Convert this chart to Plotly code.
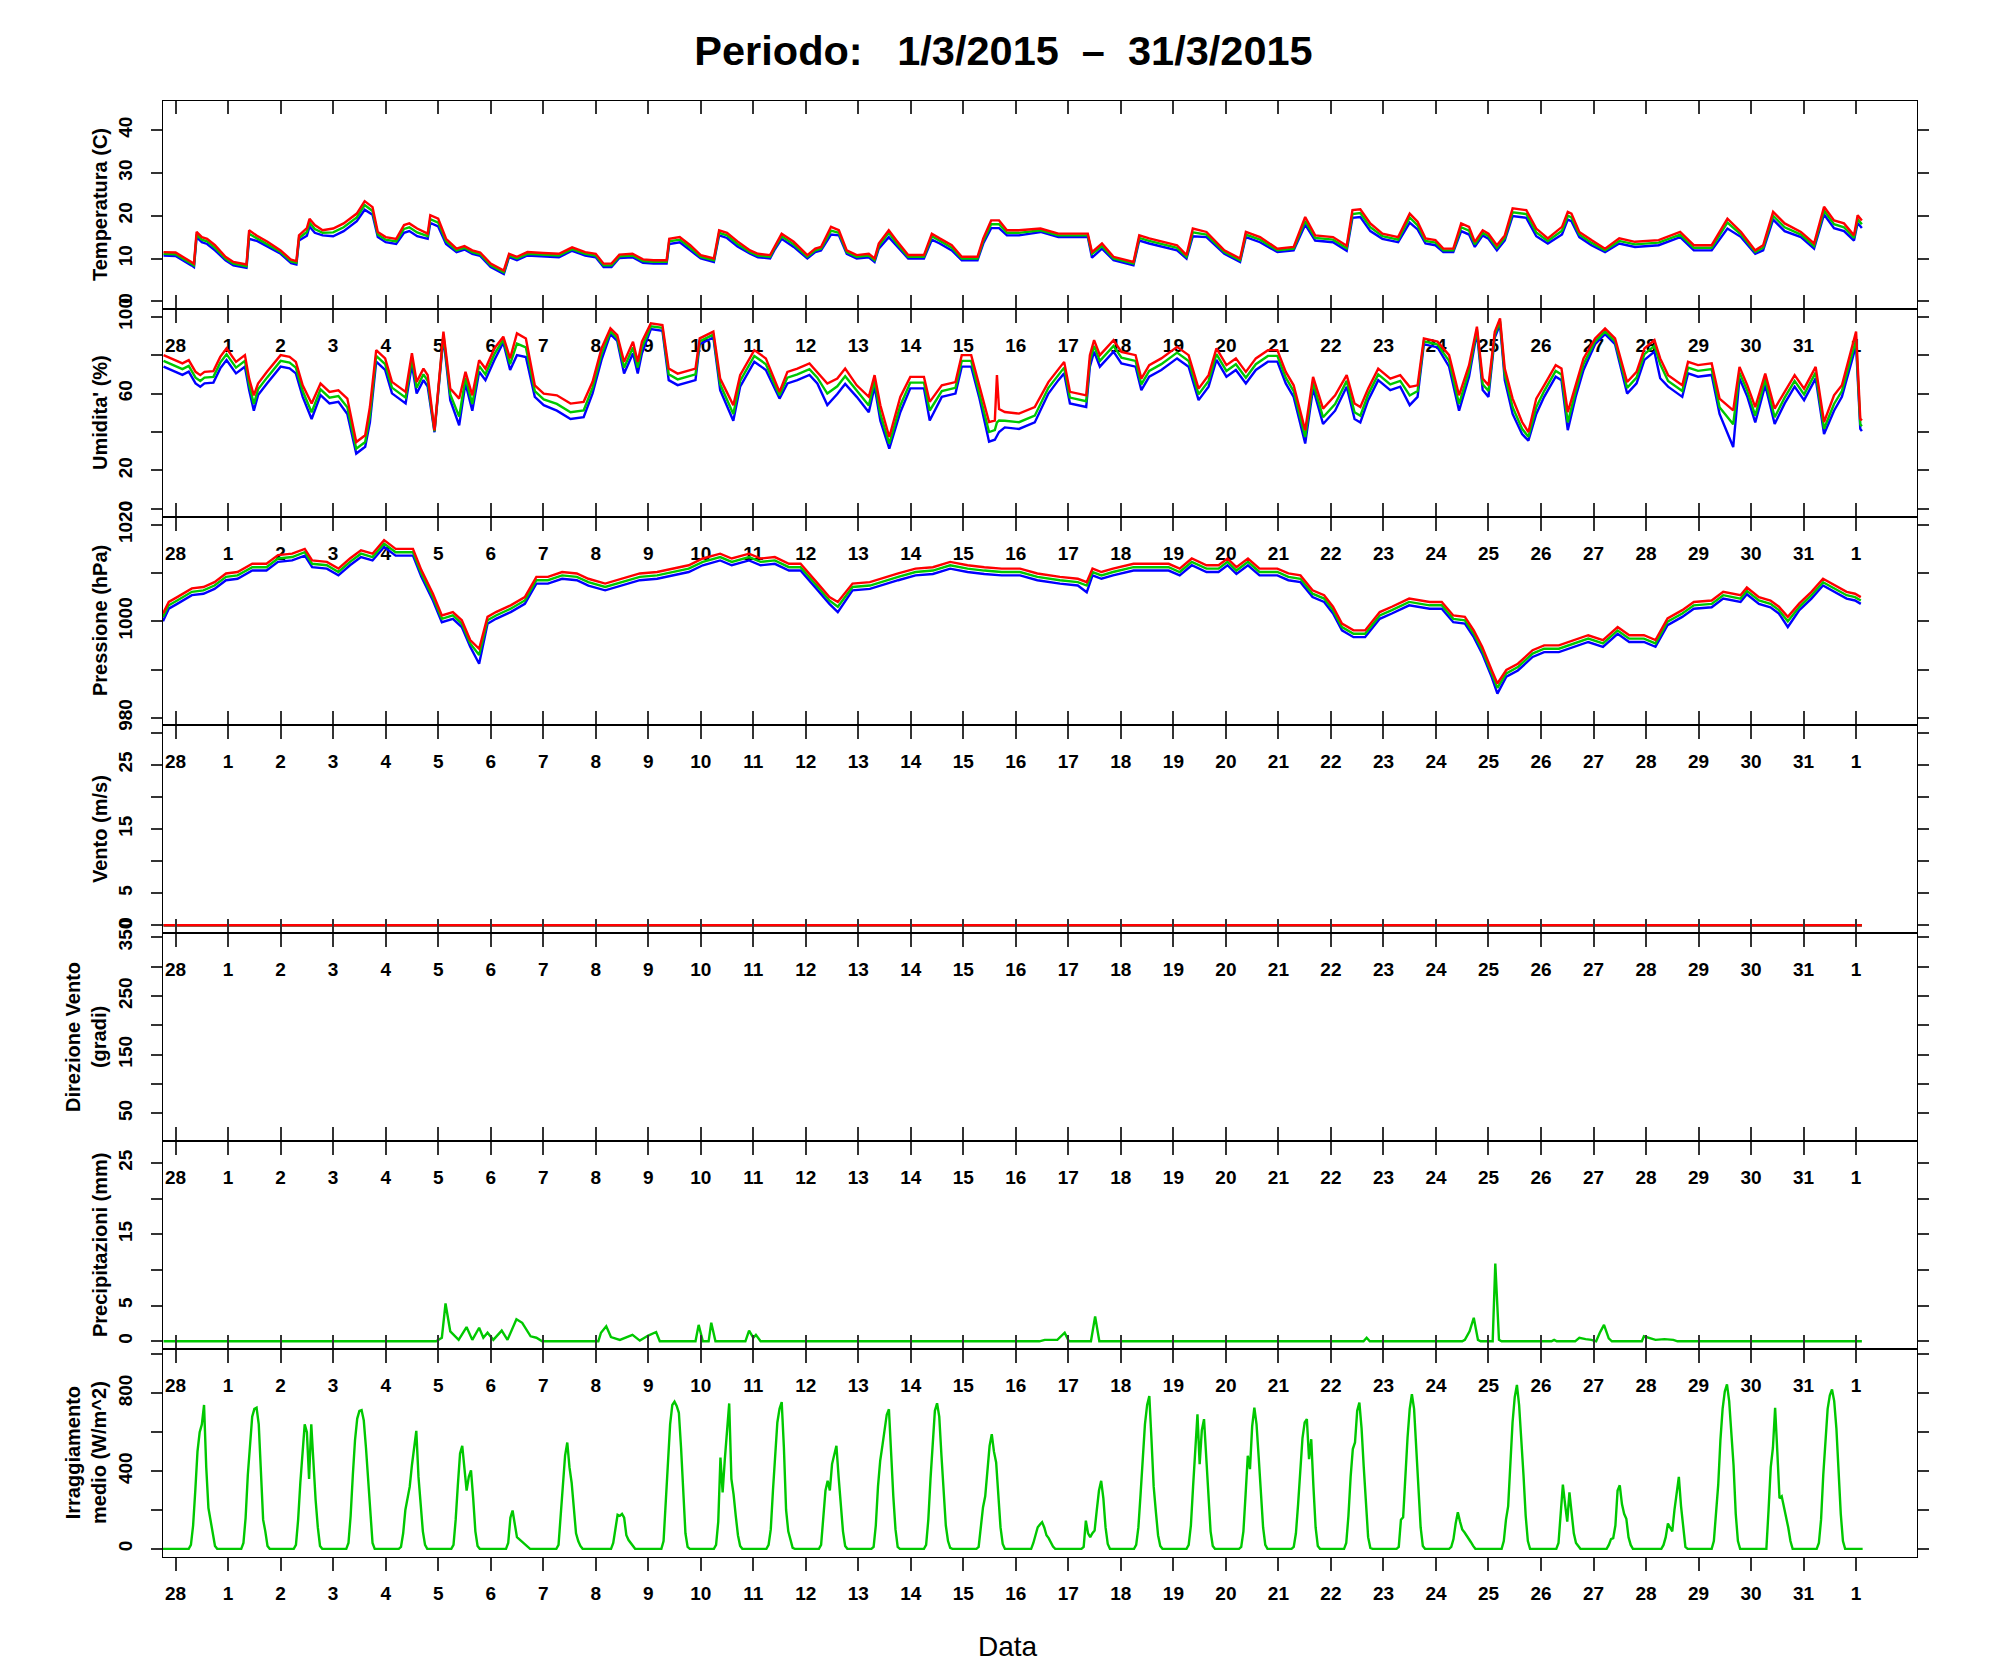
import numpy as np
import pandas as pd
import plotly.graph_objects as go
from plotly.subplots import make_subplots

# ---------- Data (times are days from 28/2/2015 00:00) ----------
BASE = pd.Timestamp("2015-02-28")
DAY_LABELS = ["28"] + [str(d) for d in range(1, 32)] + ["1"]

TEMP_T = [-0.23, 0.0, 0.3, 0.35, 0.4, 0.5, 0.6, 0.75, 0.95, 1.1, 1.35, 1.4, 1.55, 1.75, 2.0, 2.2, 2.3, 2.35,
          2.5, 2.55, 2.65, 2.8, 3.0, 3.2, 3.45, 3.6, 3.75, 3.85, 4.0, 4.2, 4.35, 4.45, 4.6, 4.8, 4.85, 5.0,
          5.15, 5.35, 5.5, 5.65, 5.8, 6.0, 6.25, 6.35, 6.5, 6.7, 7.0, 7.3, 7.55, 7.8, 8.0, 8.15, 8.3, 8.45,
          8.7, 8.9, 9.1, 9.35, 9.4, 9.6, 9.8, 10.0, 10.25, 10.35, 10.5, 10.7, 10.94, 11.09, 11.32, 11.4,
          11.54, 11.77, 12.03, 12.18, 12.29, 12.48, 12.63, 12.78, 12.97, 13.2, 13.31, 13.39, 13.58, 13.72,
          13.95, 14.25, 14.4, 14.55, 14.78, 14.97, 15.27, 15.38, 15.53, 15.68, 15.83, 16.06, 16.47, 16.81,
          17.37, 17.45, 17.64, 17.86, 18.24, 18.35, 18.54, 19.07, 19.25, 19.37, 19.63, 19.97, 20.27, 20.38,
          20.65, 20.98, 21.29, 21.51, 21.7, 22.04, 22.3, 22.41, 22.56, 22.75, 22.98, 23.28, 23.5, 23.65,
          23.8, 23.99, 24.14, 24.33, 24.48, 24.63, 24.74, 24.89, 25.0, 25.16, 25.31, 25.46, 25.72, 25.91,
          26.13, 26.4, 26.51, 26.58, 26.73, 26.96, 27.22, 27.49, 27.79, 28.24, 28.65, 28.91, 29.25, 29.55,
          29.81, 30.08, 30.23, 30.42, 30.64, 30.95, 31.2, 31.39, 31.58, 31.77, 31.96, 32.03, 32.11]
TEMP_RED = [11.5, 11.4, 9.2, 8.8, 16.2, 15.0, 14.6, 13.1, 10.4, 9.2, 8.6, 16.6, 15.3, 13.9, 11.9, 9.7, 9.4, 15.4,
            17.1, 19.3, 17.8, 16.6, 17.0, 18.2, 20.5, 23.4, 22.0, 16.2, 15.0, 14.6, 17.8, 18.2, 17.0, 15.8, 20.1, 19.3,
            14.6, 12.3, 12.9, 11.9, 11.4, 8.8, 7.2, 11.1, 10.4, 11.5, 11.3, 11.1, 12.6, 11.5, 11.1, 8.8, 8.8, 10.9,
            11.1, 9.8, 9.6, 9.6, 14.6, 15.0, 13.1, 10.8, 10.0, 16.6, 16.0, 14.0, 11.9, 11.1, 10.8, 12.7,
            15.8, 13.9, 10.8, 12.3, 12.7, 17.4, 16.6, 11.9, 10.8, 11.1, 10.0, 13.5, 16.6, 14.3,
            10.8, 10.8, 15.8, 14.7, 13.1, 10.4, 10.4, 14.7, 18.9, 18.9, 16.6, 16.6, 17.0, 15.8,
            15.8, 11.5, 13.5, 10.4, 9.2, 15.4, 14.7, 13.1, 10.8, 17.0, 16.2, 11.9, 10.0, 16.2,
            15.0, 12.3, 12.7, 19.7, 15.4, 15.0, 13.0, 21.3, 21.5, 18.2, 15.8, 15.0, 20.5, 18.6,
            14.7, 14.3, 12.3, 12.3, 18.2, 17.4, 13.9, 16.6, 15.8, 13.1, 15.4, 21.7, 21.3, 17.0,
            14.7, 17.4, 20.9, 20.5, 16.2, 14.3, 12.3, 14.7, 13.9, 14.3, 16.2, 13.1, 13.1, 19.3,
            16.2, 11.9, 13.1, 20.9, 18.2, 16.2, 13.5, 22.1, 18.9, 18.2, 15.4, 20.1, 18.9]
TEMP_GREEN = [11.1, 11.0, 8.8, 8.4, 15.6, 14.4, 14.0, 12.5, 10.0, 8.8, 8.2, 15.8, 14.7, 13.3, 11.5, 9.3, 9.0, 14.8,
              16.2, 18.4, 16.9, 16.0, 16.1, 17.3, 19.6, 22.5, 21.1, 15.6, 14.4, 14.0, 16.9, 17.3, 16.1, 15.2, 19.2, 18.4,
              14.0, 11.9, 12.5, 11.5, 11.0, 8.4, 6.8, 10.7, 10.0, 11.1, 10.9, 10.7, 12.2, 11.1, 10.7, 8.4, 8.4, 10.5,
              10.7, 9.4, 9.2, 9.2, 14.0, 14.4, 12.5, 10.4, 9.6, 16.0, 15.4, 13.4, 11.5, 10.7, 10.4, 12.3,
              15.2, 13.3, 10.4, 11.9, 12.3, 16.5, 16.0, 11.5, 10.4, 10.7, 9.6, 12.9, 16.0, 13.7,
              10.4, 10.4, 15.2, 14.1, 12.5, 10.0, 10.0, 14.1, 18.0, 18.0, 16.0, 16.0, 16.6, 15.4,
              15.4, 11.1, 12.9, 10.0, 8.8, 14.8, 14.1, 12.5, 10.4, 16.1, 15.6, 11.5, 9.6, 15.6,
              14.4, 11.9, 12.3, 18.8, 14.8, 14.4, 12.4, 20.4, 20.6, 17.3, 15.2, 14.4, 19.6, 17.7,
              14.1, 13.7, 11.9, 11.9, 17.3, 16.5, 13.3, 16.0, 15.2, 12.5, 14.8, 20.8, 20.4, 16.1,
              14.1, 16.5, 20.0, 19.6, 15.6, 13.7, 11.9, 14.1, 13.3, 13.7, 15.6, 12.5, 12.5, 18.4,
              15.6, 11.5, 12.5, 20.0, 17.3, 15.6, 12.9, 21.2, 18.0, 17.3, 14.8, 19.2, 18.0]
TEMP_BLUE = [10.7, 10.6, 8.4, 8.0, 15.0, 13.8, 13.4, 11.9, 9.6, 8.4, 7.8, 14.6, 14.1, 12.7, 11.1, 8.9, 8.6, 14.2,
             15.3, 17.5, 16.0, 15.4, 15.2, 16.4, 18.7, 21.4, 20.2, 15.0, 13.8, 13.4, 16.0, 16.4, 15.2, 14.6, 18.3, 17.5,
             13.4, 11.5, 12.1, 11.1, 10.6, 8.0, 6.4, 10.3, 9.6, 10.7, 10.5, 10.3, 11.8, 10.7, 10.3, 8.0, 8.0, 10.1,
             10.3, 9.0, 8.8, 8.8, 13.4, 13.8, 11.9, 10.0, 9.2, 15.4, 14.8, 12.8, 11.1, 10.3, 10.0, 11.9,
             14.6, 12.7, 10.0, 11.5, 11.9, 15.6, 15.4, 11.1, 10.0, 10.3, 9.2, 12.3, 15.0, 13.1,
             10.0, 10.0, 14.4, 13.5, 11.9, 9.6, 9.6, 13.5, 17.1, 17.1, 15.4, 15.4, 16.2, 15.0,
             15.0, 10.2, 12.3, 9.6, 8.4, 14.2, 13.5, 11.9, 10.0, 15.2, 15.0, 11.1, 9.2, 15.0,
             13.8, 11.5, 11.9, 17.9, 14.2, 13.8, 11.8, 19.5, 19.7, 16.4, 14.6, 13.8, 18.4, 16.8,
             13.5, 13.1, 11.5, 11.5, 16.4, 15.6, 12.7, 15.4, 14.6, 11.9, 14.2, 19.9, 19.5, 15.2,
             13.5, 15.6, 19.1, 18.7, 15.0, 13.1, 11.5, 13.5, 12.7, 13.1, 15.0, 11.9, 11.9, 17.0,
             15.0, 11.1, 11.9, 19.1, 16.4, 15.0, 12.3, 20.3, 17.1, 16.4, 14.2, 18.3, 17.1]

HUM_T = [-0.23, -0.08, 0.13, 0.25, 0.38, 0.47, 0.55, 0.72, 0.85, 0.97, 1.15, 1.32, 1.4, 1.49, 1.57, 1.74, 2.0,
         2.17, 2.29, 2.42, 2.59, 2.76, 2.93, 3.1, 3.27, 3.44, 3.61, 3.7, 3.82, 3.99, 4.12, 4.38, 4.5, 4.59,
         4.72, 4.8, 4.93, 5.1, 5.23, 5.4, 5.52, 5.65, 5.78, 5.9, 6.07, 6.24, 6.37, 6.5, 6.67, 6.84, 7.01,
         7.26, 7.52, 7.77, 7.94, 8.11, 8.28, 8.41, 8.54, 8.71, 8.8, 8.88, 9.05, 9.27, 9.39, 9.56, 9.9, 9.98,
         10.24, 10.37, 10.62, 10.75, 11.02, 11.24, 11.5, 11.65, 11.84, 12.07, 12.22, 12.41, 12.6, 12.75,
         12.97, 13.2, 13.31, 13.42, 13.59, 13.8, 13.99, 14.25, 14.36, 14.59, 14.85, 14.97, 15.15, 15.3,
         15.49, 15.6, 15.64, 15.68, 15.79, 16.06, 16.36, 16.62, 16.81, 16.92, 17.03, 17.34, 17.41, 17.49,
         17.6, 17.86, 18.01, 18.28, 18.39, 18.54, 18.77, 19.07, 19.29, 19.48, 19.67, 19.82, 20.01, 20.19,
         20.38, 20.57, 20.8, 20.98, 21.14, 21.29, 21.51, 21.66, 21.85, 22.08, 22.3, 22.45, 22.56, 22.71,
         22.9, 23.13, 23.32, 23.5, 23.65, 23.77, 24.03, 24.25, 24.44, 24.63, 24.78, 24.89, 25.0, 25.12,
         25.22, 25.31, 25.46, 25.64, 25.76, 25.91, 26.06, 26.28, 26.39, 26.51, 26.66, 26.81, 27.03, 27.22,
         27.41, 27.64, 27.82, 27.97, 28.16, 28.27, 28.42, 28.69, 28.8, 28.99, 29.25, 29.4, 29.66, 29.78,
         29.93, 30.08, 30.27, 30.45, 30.64, 30.83, 31.01, 31.23, 31.39, 31.58, 31.73, 32.0, 32.08, 32.11]
HUM_RED = [80, 78.3, 75.7, 77.4, 71.3, 69.6, 71.3, 71.7, 79.1, 83.5, 76.5, 80, 67.8, 59.1, 65.2, 71.3, 80,
           79.1, 76.5, 64.3, 54.8, 65.2, 60.9, 61.7, 57.4, 34.8, 38.3, 53, 82.6, 78.3, 66.1, 60.9, 81, 66,
           73, 69.6, 40.9, 92.2, 62.6, 57.4, 71.3, 59.1, 77.4, 73, 83.5, 89.6, 78.3, 91.3, 88.7, 64.3, 60,
           59.1, 54.8, 55.7, 66.1, 83.5, 93.9, 90.4, 76.5, 87, 76.5, 87, 96.5, 95.7, 73, 70.4, 73, 88.7,
           92.2, 67.8, 53.9, 69.6, 82.6, 78.3, 60.9, 71.3, 73, 75.7, 71.3, 65.2, 67.8, 73,
           64.3, 58.3, 69.6, 53.9, 37.4, 58.3, 68.7, 68.7, 55.7, 64.3, 66, 80, 80, 64.3,
           45.2, 46, 69.6, 52, 50.4, 49.6, 53, 66, 73, 76.5, 60.9, 59.1, 80, 87.8,
           80, 87.8, 81.7, 80, 67.8, 74.8, 78.3, 84.3, 80, 62.6, 69.6, 83.5, 74.8, 78.3,
           71.3, 78.3, 82.6, 82.6, 71.3, 64.3, 40.9, 68.7, 52.2, 59.1, 69.6, 54.8, 53, 62.6,
           73, 67.8, 69.6, 63.5, 64.3, 88.7, 87, 80, 59.1, 74.8, 94.8, 67.8, 64.3, 92.2,
           99.1, 73, 57.4, 45.2, 40, 57.4, 64.3, 74.8, 73, 50.4, 64.3, 78.3, 88.7, 93.9,
           88.7, 66, 71.3, 83.5, 87.8, 78.3, 69.6, 64.3, 76.5, 74.8, 75.7, 57.4, 51.3, 73.9,
           64.3, 53, 70.4, 52.2, 60.9, 69.6, 62.6, 73.9, 45.2, 59.1, 64.3, 92.2, 47, 46]
HUM_GREEN = [77, 75.3, 72.7, 74.4, 68.3, 66.6, 68.3, 68.7, 76.1, 80.5, 73.5, 77, 64.8, 54.6, 62.2, 68.3, 77,
             76.1, 73.5, 61.3, 50.3, 62.2, 57.9, 58.7, 52.9, 31.3, 34.8, 48.5, 79.6, 75.3, 63.1, 57.9, 78, 63,
             70, 66.6, 40.4, 90.7, 59.6, 48, 68.3, 54.6, 74.4, 70, 80.5, 88.1, 75.3, 86, 84, 61.3, 57,
             54.6, 50.3, 51.2, 63.1, 80.5, 92.4, 88.9, 73.5, 84, 73.5, 84, 95, 94.2, 70, 67.4, 70, 87.2,
             90.7, 64.8, 49.4, 66.6, 79.6, 75.3, 59.1, 68.3, 70, 72.7, 68.3, 60, 63.8, 69,
             61.3, 53.8, 66.6, 49.4, 34, 53.8, 65.7, 65.7, 51.2, 61.3, 63, 77, 77, 61.3,
             40, 41, 45, 46, 45.9, 45.1, 48.5, 63, 70, 73.5, 57.9, 56, 77, 84.8,
             77, 84.8, 78.7, 77, 64.8, 71.8, 75.3, 81.3, 77, 59.6, 66.6, 80.5, 71.8, 75.3,
             68.3, 75.3, 79.6, 79.6, 68.3, 61.3, 37.4, 65.7, 47.7, 54.6, 66.6, 50.3, 48.5, 59.6,
             70, 64.8, 66.6, 59, 61.3, 87.2, 85.5, 77, 54.6, 71.8, 93.3, 64.8, 61.3, 90.7,
             97.6, 70, 52.9, 41.7, 37.5, 52.9, 61.3, 71.8, 70, 45, 61.3, 75.3, 87.2, 92.4,
             87.2, 63, 68.3, 80.5, 84.8, 75.3, 66.6, 61.3, 73.5, 71.8, 72.7, 52.9, 44, 70.9,
             61.3, 48.5, 67.4, 47.7, 57.9, 66.6, 59.6, 70.9, 41.7, 54.6, 61.3, 88, 44, 43]
HUM_BLUE = [74, 72.3, 69.7, 71.4, 65.3, 63.6, 65.3, 65.7, 73.1, 77.5, 70.5, 74, 61.8, 51.1, 59.2, 65.3, 74,
            73.1, 70.5, 58.3, 46.8, 59.2, 54.9, 55.7, 49.4, 28.8, 32.3, 45, 76.6, 72.3, 60.1, 54.9, 75, 60,
            67, 63.6, 39.9, 89.2, 56.6, 43.5, 65.3, 51.1, 71.4, 67, 77.5, 86.6, 72.3, 80, 79, 58.3, 54,
            51.1, 46.8, 47.7, 60.1, 77.5, 90.9, 87.4, 70.5, 81, 70.5, 81, 93.5, 92.7, 67, 64.4, 67, 85.7,
            89.2, 61.8, 45.9, 63.6, 76.6, 72.3, 57.4, 65.3, 67, 69.7, 65.3, 54, 59.8, 65,
            58.3, 50.3, 63.6, 45.9, 31.3, 50.3, 62.7, 62.7, 46, 58.3, 60, 74, 74, 58.3,
            35, 36, 38, 40, 42.4, 41.6, 45, 60, 67, 70.5, 54.9, 53, 74, 81.8,
            74, 81.8, 75.7, 74, 61.8, 68.8, 72.3, 78.3, 74, 56.6, 63.6, 77.5, 68.8, 72.3,
            65.3, 72.3, 76.6, 76.6, 65.3, 58.3, 34, 62.7, 44.2, 51.1, 63.6, 46.8, 45, 56.6,
            67, 61.8, 63.6, 54, 58.3, 85.7, 84, 74, 51.1, 68.8, 91.8, 61.8, 58.3, 89.2,
            96.1, 67, 49.4, 39, 35.5, 49.4, 58.3, 68.8, 67, 41, 58.3, 72.3, 85.7, 90.9,
            85.7, 60, 65.3, 77.5, 81.8, 68, 63.6, 58.3, 70.5, 68.8, 69.7, 49.4, 32.2, 67.9,
            58.3, 45, 64.4, 44.2, 54.9, 63.6, 56.6, 67.9, 39, 51.1, 58.3, 85, 41.7, 40.5]

PRES_T = [-0.24, -0.13, 0.03, 0.31, 0.53, 0.74, 0.96, 1.18, 1.46, 1.73, 1.95, 2.22, 2.46, 2.6, 2.88, 3.1,
          3.32, 3.53, 3.75, 3.97, 4.19, 4.52, 4.68, 4.9, 5.07, 5.28, 5.45, 5.61, 5.78, 5.94, 6.1, 6.38,
          6.65, 6.87, 7.09, 7.36, 7.64, 7.86, 8.18, 8.51, 8.84, 9.17, 9.5, 9.77, 10.04, 10.37, 10.59,
          10.92, 11.14, 11.41, 11.68, 11.9, 12.23, 12.45, 12.61, 12.89, 13.22, 13.54, 13.76, 14.09,
          14.42, 14.75, 15.08, 15.4, 15.73, 16.08, 16.41, 16.84, 17.18, 17.35, 17.46, 17.63, 17.85,
          18.24, 18.63, 18.91, 19.12, 19.35, 19.63, 19.86, 20.03, 20.2, 20.42, 20.64, 20.98, 21.19,
          21.42, 21.65, 21.87, 22.04, 22.21, 22.43, 22.65, 22.93, 23.16, 23.49, 23.88, 24.11, 24.33,
          24.55, 24.72, 24.88, 25.06, 25.17, 25.34, 25.56, 25.84, 26.06, 26.34, 26.62, 26.9, 27.18,
          27.46, 27.68, 27.96, 28.18, 28.41, 28.69, 28.91, 29.25, 29.47, 29.8, 29.92, 30.15, 30.37,
          30.53, 30.7, 30.92, 31.15, 31.37, 31.59, 31.82, 31.98, 32.09]
PRES_RED = [1001.6, 1004.0, 1005.0, 1006.8, 1007.1, 1008.1, 1009.9, 1010.2, 1011.9, 1011.9, 1013.7, 1014.0,
            1015.0, 1012.6, 1012.3, 1010.9, 1013.0, 1014.7, 1014.0, 1016.8, 1015.0, 1015.0, 1010.6, 1005.7,
            1001.2, 1001.9, 1000.2, 996.1, 994.3, 1000.9, 1001.9, 1003.3, 1005.0, 1009.2, 1009.2, 1010.2,
            1009.9, 1008.8, 1007.8, 1008.8, 1009.9, 1010.2, 1010.9, 1011.6, 1013.0, 1014.0, 1013.0, 1014.0,
            1013.0, 1013.3, 1011.9, 1011.9, 1007.8, 1005.0, 1004.0, 1007.8, 1008.1, 1009.2, 1009.9, 1010.9,
            1011.2, 1012.3, 1011.6, 1011.2, 1010.9, 1010.9, 1009.9, 1009.2, 1008.8, 1008.1, 1010.9, 1010.2,
            1010.9, 1011.9, 1011.9, 1011.9, 1010.9, 1013.0, 1011.6, 1011.6, 1013.0, 1011.2, 1013.0, 1010.9,
            1010.9, 1009.9, 1009.5, 1006.4, 1005.4, 1003.0, 999.5, 998.1, 998.1, 1001.9, 1003.0, 1004.7,
            1004.0, 1004.0, 1001.2, 1000.9, 998.1, 994.7, 989.9, 987.1, 989.9, 991.2, 994.0, 995.0, 995.0,
            996.1, 997.1, 996.1, 998.8, 997.1, 997.1, 996.1, 1000.6, 1002.3, 1004.0, 1004.3, 1006.1,
            1005.4, 1007.0, 1005.0, 1004.3, 1003.0, 1000.9, 1003.7, 1006.1, 1008.8, 1007.4, 1006.1,
            1005.7, 1005.0]
PRES_GREEN = [1000.9, 1003.3, 1004.3, 1006.1, 1006.4, 1007.4, 1009.2, 1009.5, 1011.2, 1011.2, 1013.0, 1013.3,
              1014.3, 1011.9, 1011.6, 1010.2, 1012.3, 1014.0, 1013.3, 1016.1, 1014.3, 1014.3, 1009.9, 1005.0,
              1000.5, 1001.2, 999.5, 995.4, 993.0, 1000.2, 1001.2, 1002.6, 1004.3, 1008.5, 1008.5, 1009.5,
              1009.2, 1008.1, 1007.1, 1008.1, 1009.2, 1009.5, 1010.2, 1010.9, 1012.3, 1013.3, 1012.3, 1013.3,
              1012.3, 1012.6, 1011.2, 1011.2, 1007.1, 1004.3, 1003.0, 1007.1, 1007.4, 1008.5, 1009.2, 1010.2,
              1010.5, 1011.6, 1010.9, 1010.5, 1010.2, 1010.2, 1009.2, 1008.5, 1008.1, 1007.4, 1010.2, 1009.5,
              1010.2, 1011.2, 1011.2, 1011.2, 1010.2, 1012.3, 1010.9, 1010.9, 1012.3, 1010.5, 1012.3, 1010.2,
              1010.2, 1009.2, 1008.8, 1005.7, 1004.7, 1002.3, 998.8, 997.4, 997.4, 1001.2, 1002.3, 1004.0,
              1003.3, 1003.3, 1000.5, 1000.2, 997.4, 994.0, 989.2, 986.2, 989.2, 990.5, 993.3, 994.3, 994.3,
              995.4, 996.4, 995.4, 998.1, 996.4, 996.4, 995.4, 999.9, 1001.6, 1003.3, 1003.6, 1005.4,
              1004.7, 1006.3, 1004.3, 1003.6, 1002.3, 1000.0, 1003.0, 1005.4, 1008.1, 1006.7, 1005.4,
              1005.0, 1004.3]
PRES_BLUE = [1000.0, 1002.6, 1003.6, 1005.4, 1005.7, 1006.7, 1008.5, 1008.8, 1010.5, 1010.5, 1012.3, 1012.6,
             1013.6, 1011.2, 1010.9, 1009.5, 1011.6, 1013.3, 1012.6, 1015.4, 1013.6, 1013.6, 1009.2, 1004.3,
             999.8, 1000.5, 998.8, 994.7, 991.2, 999.5, 1000.5, 1001.9, 1003.6, 1007.8, 1007.8, 1008.8,
             1008.5, 1007.4, 1006.4, 1007.4, 1008.5, 1008.8, 1009.5, 1010.2, 1011.6, 1012.6, 1011.6, 1012.6,
             1011.6, 1011.9, 1010.5, 1010.5, 1006.4, 1003.6, 1001.9, 1006.4, 1006.7, 1007.8, 1008.5, 1009.5,
             1009.8, 1010.9, 1010.2, 1009.8, 1009.5, 1009.5, 1008.5, 1007.8, 1007.4, 1006.0, 1009.5, 1008.8,
             1009.5, 1010.5, 1010.5, 1010.5, 1009.5, 1011.6, 1010.2, 1010.2, 1011.6, 1009.8, 1011.6, 1009.5,
             1009.5, 1008.5, 1008.1, 1005.0, 1004.0, 1001.6, 998.1, 996.7, 996.7, 1000.5, 1001.6, 1003.3,
             1002.6, 1002.6, 999.8, 999.5, 996.7, 993.3, 988.5, 985.0, 988.5, 989.8, 992.6, 993.6, 993.6,
             994.7, 995.7, 994.7, 997.4, 995.7, 995.7, 994.7, 999.2, 1000.9, 1002.6, 1002.9, 1004.7,
             1004.0, 1005.6, 1003.6, 1002.9, 1001.6, 998.8, 1002.3, 1004.7, 1007.4, 1006.0, 1004.7,
             1004.3, 1003.6]

WIND_T = [-0.23, 32.11]
WIND_RED = [0.0, 0.0]
WIND_GREEN = [0.0, 0.0]
WIND_BLUE = [0.0, 0.0]
WDIR = [None, None]  # no wind direction recorded

RAIN_T = [-0.23, 4.96, 5.07, 5.14, 5.23, 5.39, 5.54, 5.65, 5.78, 5.86, 5.94, 6.05, 6.21, 6.32, 6.49, 6.6,
          6.76, 6.87, 6.98, 8.05, 8.1, 8.2, 8.29, 8.46, 8.7, 8.84, 9.0, 9.15, 9.22, 9.9, 9.96, 10.04, 10.15,
          10.2, 10.28, 10.85, 10.92, 11.0, 11.05, 11.14, 16.45, 16.55, 16.79, 16.93, 17.01, 17.43, 17.51,
          17.59, 22.62, 22.68, 22.74, 24.5, 24.55, 24.64, 24.72, 24.8, 24.85, 25.08, 25.13, 25.2, 25.25,
          26.2, 26.25, 26.3, 26.65, 26.73, 26.85, 26.96, 27.05, 27.12, 27.2, 27.29, 27.35, 27.92, 27.96,
          28.07, 28.18, 28.35, 28.52, 28.6, 32.11]
RAIN_MM = [0, 0, 0.5, 5.3, 1.4, 0.2, 2.0, 0.2, 1.9, 0.5, 1.2, 0.2, 1.5, 0.2, 3.1, 2.6,
           0.7, 0.5, 0, 0, 1.2, 2.1, 0.6, 0.2, 0.9, 0.1, 0.8, 1.3, 0, 0, 2.3, 0, 0,
           2.6, 0, 0, 1.5, 0.5, 0.9, 0, 0, 0.2, 0.2, 1.2, 0, 0, 3.5,
           0, 0, 0.5, 0, 0, 0.2, 1.4, 3.3, 0.2, 0, 0, 10.9, 0.2, 0,
           0, 0.2, 0, 0, 0.5, 0.3, 0.2, 0, 1.2, 2.3, 0.4, 0, 0, 0.7,
           0.4, 0.2, 0.3, 0.2, 0, 0]

# hourly irradiance, hours 6..19 of each day from 28/2 to 31/3 (night = 0)
IRR_HOURS = list(range(6, 20))
IRR_DAY = [
    [0, 20, 120, 300, 500, 600, 640, 740, 420, 210, 150, 70, 15, 0],
    [0, 30, 160, 380, 560, 680, 720, 726, 640, 420, 150, 90, 15, 0],
    [0, 20, 150, 340, 520, 640, 600, 360, 640, 430, 250, 110, 15, 0],
    [0, 30, 170, 380, 560, 670, 710, 714, 660, 520, 350, 160, 30, 0],
    [0, 10, 80, 200, 260, 320, 430, 520, 607, 370, 220, 90, 20, 0],
    [0, 20, 150, 330, 490, 530, 420, 300, 370, 404, 260, 90, 15, 0],
    [0, 0, 30, 160, 197, 120, 60, 50, 40, 30, 20, 8, 0, 0],
    [0, 20, 160, 340, 480, 547, 420, 340, 200, 80, 40, 15, 0, 0],
    [0, 0, 30, 110, 175, 170, 180, 160, 70, 45, 30, 12, 0, 0],
    [0, 40, 220, 450, 640, 740, 757, 735, 700, 520, 280, 80, 10, 0],
    [0, 20, 140, 470, 290, 460, 630, 748, 360, 280, 170, 70, 15, 0],
    [0, 20, 100, 300, 500, 650, 720, 755, 520, 200, 90, 40, 5, 0],
    [0, 20, 140, 300, 350, 300, 436, 480, 530, 370, 220, 90, 15, 0],
    [0, 10, 120, 320, 453, 530, 615, 690, 718, 480, 270, 100, 10, 0],
    [0, 20, 150, 360, 560, 710, 749, 680, 480, 280, 120, 40, 5, 0],
    [0, 10, 100, 214, 270, 410, 530, 590, 500, 444, 270, 110, 25, 0],
    [0, 0, 30, 70, 111, 125, 137, 110, 70, 55, 35, 12, 0, 0],
    [0, 10, 145, 80, 60, 80, 94, 200, 300, 350, 260, 110, 25, 0],
    [0, 20, 110, 280, 480, 640, 740, 786, 560, 320, 190, 70, 15, 0],
    [0, 20, 120, 320, 520, 692, 436, 610, 667, 470, 270, 90, 15, 0],
    [0, 10, 90, 280, 479, 410, 630, 726, 640, 470, 300, 110, 20, 0],
    [0, 10, 80, 230, 420, 570, 650, 667, 461, 564, 320, 110, 15, 0],
    [0, 30, 170, 370, 513, 547, 710, 752, 620, 420, 220, 60, 5, 0],
    [0, 10, 150, 162, 380, 570, 720, 795, 720, 520, 320, 110, 15, 0],
    [0, 10, 50, 130, 188, 140, 100, 85, 70, 55, 34, 15, 0, 0],
    [0, 40, 150, 220, 440, 650, 780, 843, 740, 580, 380, 170, 40, 0],
    [0, 0, 30, 200, 330, 230, 140, 290, 200, 80, 30, 15, 0, 0],
    [0, 20, 50, 55, 120, 300, 327, 230, 180, 155, 60, 20, 0, 0],
    [0, 0, 20, 60, 130, 110, 90, 200, 300, 370, 220, 100, 10, 0],
    [0, 40, 200, 330, 560, 720, 810, 846, 760, 580, 430, 180, 40, 0],
    [0, 0, 200, 420, 520, 726, 500, 260, 270, 220, 160, 110, 40, 0],
    [0, 30, 150, 380, 560, 720, 790, 820, 760, 620, 400, 180, 40, 0],
]

# ---------- Helpers ----------
def to_time(days):
    return BASE + pd.to_timedelta(np.asarray(days, dtype=float), unit="D")

irr_index = pd.date_range("2015-02-27 18:00", "2015-04-01 03:00", freq="h")
irr = pd.Series(0.0, index=irr_index)
for d, prof in enumerate(IRR_DAY):
    for h, v in zip(IRR_HOURS, prof):
        irr[BASE + pd.Timedelta(days=d, hours=h)] = v

FONT = "Liberation Sans, Arial, Helvetica, sans-serif"
RED, GREEN, BLUE = "#FF0000", "#00C800", "#0000FF"
X_RANGE = [BASE - pd.Timedelta(days=0.24), BASE + pd.Timedelta(days=33.16)]
DAY_TICKS = pd.date_range("2015-02-28", periods=len(DAY_LABELS), freq="D")

# ---------- Plotting ----------
fig = make_subplots(rows=7, cols=1, vertical_spacing=0)

def add_three(t, blue, green, red, row):
    x = to_time(t)
    for vals, col in ((blue, BLUE), (green, GREEN), (red, RED)):
        fig.add_trace(go.Scatter(x=x, y=vals, mode="lines", line=dict(color=col, width=2.4),
                                 hoverinfo="skip"), row=row, col=1)

add_three(TEMP_T, TEMP_BLUE, TEMP_GREEN, TEMP_RED, 1)
add_three(HUM_T, HUM_BLUE, HUM_GREEN, HUM_RED, 2)
add_three(PRES_T, PRES_BLUE, PRES_GREEN, PRES_RED, 3)
add_three(WIND_T, WIND_BLUE, WIND_GREEN, WIND_RED, 4)
fig.add_trace(go.Scatter(x=to_time(WIND_T), y=WDIR, mode="lines", line=dict(color=RED, width=2.4),
                         hoverinfo="skip"), row=5, col=1)
fig.add_trace(go.Scatter(x=to_time(RAIN_T), y=RAIN_MM, mode="lines",
                         line=dict(color=GREEN, width=2.4), hoverinfo="skip"), row=6, col=1)
fig.add_trace(go.Scatter(x=irr.index, y=irr.values, mode="lines",
                         line=dict(color=GREEN, width=2.4), hoverinfo="skip"), row=7, col=1)

# y axes: range, tick values, tick labels
Y_AXES = [
    ([-1.8, 46.8], [0, 10, 20, 30, 40], ["0", "10", "20", "30", "40"]),
    ([-4.2, 104], [0, 20, 40, 60, 80, 100], ["0", "20", "", "60", "", "100"]),
    ([978.5, 1021.6], [980, 990, 1000, 1010, 1020], ["980", "", "1000", "", "1020"]),
    ([-1.2, 31.2], [0, 5, 10, 15, 20, 25, 30], ["0", "5", "", "15", "", "25", ""]),
    ([2.7, 357.5], [50, 100, 150, 200, 250, 300, 350], ["50", "", "150", "", "250", "", "350"]),
    ([-1.08, 28.08], [0, 5, 10, 15, 20, 25], ["0", "5", "", "15", "", "25"]),
    ([-42, 1028], [0, 200, 400, 600, 800, 1000], ["0", "", "400", "", "800", ""]),
]
Y_TITLES = ["Temperatura (C)", "Umidita' (%)", "Pressione (hPa)", "Vento (m/s)",
            "Direzione Vento<br>(gradi)", "Precipitazioni (mm)", "Irraggiamento<br>medio (W/m^2)"]

tick_font = dict(family=FONT, size=19, color="black", weight="bold")

# each panel's date axis sits on its bottom edge: the outside ticks and labels reach into the
# panel below, the mirrored ticks reach up into the panel above
for i in range(1, 8):
    rng, tv, tt = Y_AXES[i - 1]
    fig.update_yaxes(range=rng, tickvals=tv, ticktext=tt, ticks="outside", ticklen=11, tickwidth=1.5,
                     tickcolor="#333", showline=True, linecolor="black", linewidth=1.3, mirror="ticks",
                     showgrid=False, zeroline=False, tickangle=-90, tickfont=tick_font,
                     ticklabelstandoff=11, row=i, col=1)
    fig.update_xaxes(type="date", range=X_RANGE, tickvals=DAY_TICKS, ticktext=DAY_LABELS,
                     side="bottom", ticks="outside", ticklen=13, tickwidth=1.5, tickcolor="#333",
                     showline=True, linecolor="black", linewidth=1.3,
                     mirror="ticks" if i > 1 else True,
                     showgrid=False, zeroline=False, tickfont=tick_font, ticklabelstandoff=6,
                     row=i, col=1)
    n_lines = Y_TITLES[i - 1].count("<br>") + 1
    fig.add_annotation(text=Y_TITLES[i - 1], textangle=-90, xref="paper", yref="paper",
                       x=0, y=1 - (i - 0.5) / 7, xanchor="center", yanchor="middle",
                       xshift=-63 if n_lines == 1 else -77, showarrow=False,
                       font=dict(family=FONT, size=20, color="black", weight="bold"))

# top edge of the first panel: ticks pointing inwards, no labels
fig.update_layout(xaxis8=dict(overlaying="x", anchor="y", side="top", type="date", range=X_RANGE,
                              tickvals=DAY_TICKS, ticks="inside", ticklen=13, tickwidth=1.5,
                              tickcolor="#333", showline=False, showgrid=False, zeroline=False,
                              showticklabels=False))
fig.add_trace(go.Scatter(x=to_time(WIND_T), y=WDIR, mode="lines", xaxis="x8", yaxis="y",
                         line=dict(color=RED, width=2.4), hoverinfo="skip"))

fig.add_annotation(text="Data", xref="paper", yref="paper", x=0.482, y=0, yshift=-89,
                   xanchor="center", yanchor="middle", showarrow=False,
                   font=dict(family=FONT, size=28, color="black"))

# ---------- Final Layout ----------
fig.update_layout(
    width=1991,
    height=1680,
    margin=dict(l=155, r=82, t=93, b=131),
    showlegend=False,
    plot_bgcolor="white",
    paper_bgcolor="white",
    title=dict(text="Periodo:\u00a0\u00a0 1/3/2015 \u00a0\u2013\u00a0 31/3/2015", x=0.5, xanchor="center",
               y=1 - 42 / 1680, yanchor="middle",
               font=dict(family=FONT, size=41.5, color="black", weight="bold")),
)

fig.write_html("out.html")
